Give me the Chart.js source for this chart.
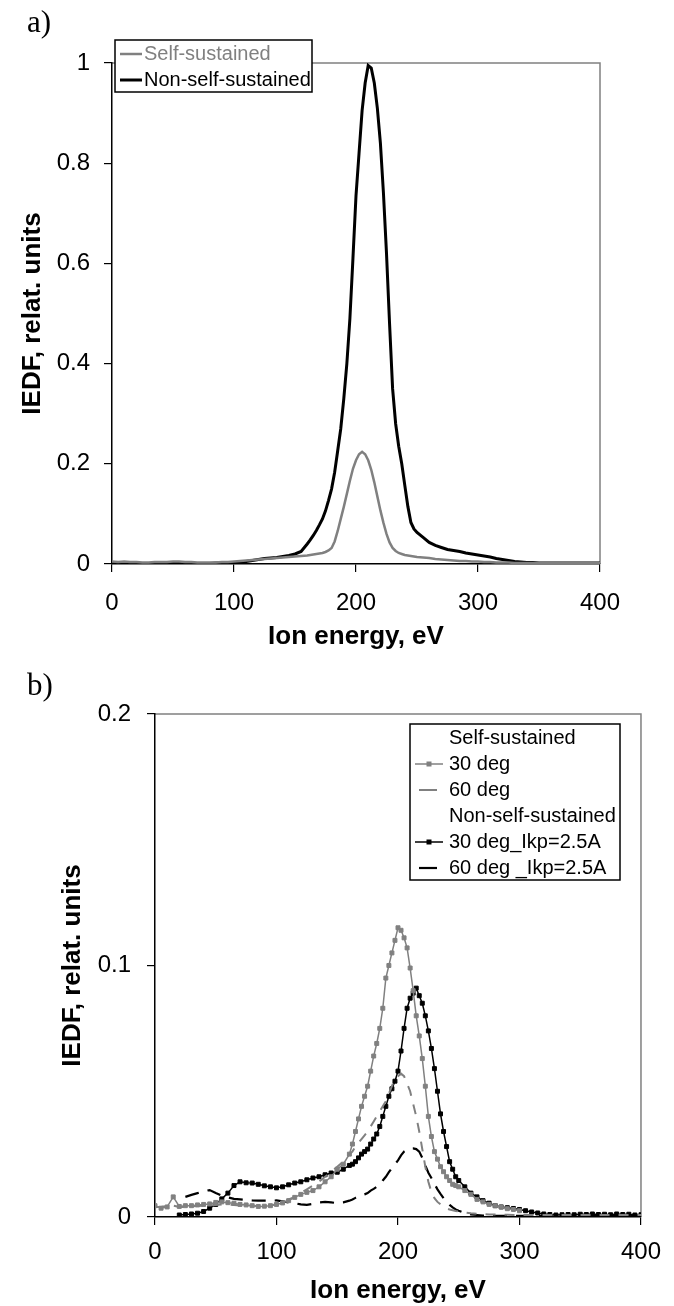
<!DOCTYPE html>
<html>
<head>
<meta charset="utf-8">
<script src="https://cdn.jsdelivr.net/npm/chart.js@4.4.1/dist/chart.umd.min.js"></script>
<style>
body { margin: 0; background: #fff; width: 674px; height: 1306px; position: relative; overflow: hidden; }
canvas { position: absolute; left: 0; }
.lbl { position: absolute; left: 27px; font: 31px/31px "Liberation Serif", serif; color: #000; }
</style>
</head>
<body>
<canvas id="chartA" width="674" height="660" style="top:0"></canvas>
<canvas id="chartB" width="674" height="646" style="top:660px"></canvas>
<div class="lbl" style="top:6px">a)</div>
<div class="lbl" style="top:669px">b)</div>
<script>
// ion energy, eV (finer step around the peaks)
const energy = [
  0, 5, 10, 15, 20, 25, 30, 35, 40, 45, 50, 55, 60, 65, 70, 75, 80, 85, 90, 95,
  100, 105, 110, 115, 120, 125, 130, 135, 140, 145, 150, 155,
  160, 162.5, 165, 167.5, 170, 172.5, 175, 177.5, 180, 182.5,
  185, 187.5, 190, 192.5, 195, 197.5, 200, 202.5, 205, 207.5,
  210, 212.5, 215, 217.5, 220, 222.5, 225, 227.5, 230, 232.5,
  235, 237.5, 240, 242.5, 245, 247.5, 250,
  255, 260, 265, 270, 275, 280, 285, 290, 295, 300,
  305, 310, 315, 320, 325, 330, 335, 340, 345, 350,
  355, 360, 365, 370, 375, 380, 385, 390, 395, 400
];

// a) IEDF
const selfA = [
  0.005, 0.004, 0.005, 0.004, 0.004, 0.003, 0.003, 0.004, 0.004, 0.004,
  0.005, 0.005, 0.004, 0.004, 0.003, 0.003, 0.003, 0.003, 0.004, 0.004,
  0.005, 0.006, 0.007, 0.008, 0.009, 0.010, 0.011, 0.012, 0.013, 0.014,
  0.015, 0.016,
  0.017, 0.018, 0.019, 0.020, 0.021, 0.022, 0.024, 0.027, 0.032, 0.045,
  0.066, 0.090, 0.114, 0.140, 0.166, 0.190, 0.207, 0.219, 0.224, 0.219,
  0.207, 0.188, 0.163, 0.135, 0.107, 0.082, 0.060, 0.043, 0.032, 0.026,
  0.022, 0.020, 0.018, 0.017, 0.016, 0.015, 0.014,
  0.013, 0.012, 0.010, 0.009, 0.008, 0.007, 0.006, 0.006, 0.005, 0.005,
  0.004, 0.004, 0.003, 0.003, 0.003, 0.002, 0.002, 0.002, 0.002, 0.002,
  0.002, 0.002, 0.002, 0.002, 0.002, 0.002, 0.002, 0.002, 0.002, 0.002
];
const nonSelfA = [
  0.002, 0.002, 0.001, 0.001, 0.001, 0.001, 0.001, 0.001, 0.001, 0.001,
  0.001, 0.002, 0.001, 0.001, 0.001, 0.001, 0.001, 0.002, 0.002, 0.002,
  0.002, 0.003, 0.005, 0.007, 0.009, 0.011, 0.012, 0.013, 0.015, 0.017,
  0.020, 0.025,
  0.040, 0.048, 0.057, 0.067, 0.078, 0.090, 0.106, 0.127, 0.150, 0.183,
  0.226, 0.270, 0.330, 0.400, 0.490, 0.610, 0.735, 0.820, 0.905, 0.960,
  0.995, 0.990, 0.960, 0.910, 0.840, 0.740, 0.620, 0.480, 0.350, 0.280,
  0.235, 0.200, 0.157, 0.115, 0.083, 0.070, 0.063,
  0.053, 0.043, 0.037, 0.033, 0.029, 0.027, 0.025, 0.022, 0.020, 0.018,
  0.016, 0.014, 0.011, 0.009, 0.007, 0.005, 0.004, 0.003, 0.003, 0.002,
  0.002, 0.002, 0.002, 0.002, 0.002, 0.002, 0.002, 0.002, 0.002, 0.002
];

// b) IEDF
const self30 = [
  0.0045, 0.0035, 0.004, 0.008, 0.0042, 0.0045, 0.0045, 0.0048, 0.005, 0.0052,
  0.0058, 0.006, 0.0057, 0.0055, 0.005, 0.0048, 0.0045, 0.0042, 0.0043, 0.0045,
  0.005, 0.0056, 0.0065, 0.0078, 0.009, 0.0098, 0.0105, 0.012, 0.014, 0.016,
  0.019, 0.021,
  0.025, 0.029, 0.034, 0.039, 0.044, 0.048, 0.052, 0.058, 0.064, 0.069,
  0.075, 0.083, 0.095, 0.100, 0.105, 0.110, 0.115, 0.114, 0.111, 0.107,
  0.099, 0.090, 0.080, 0.072, 0.063, 0.052, 0.040, 0.032, 0.026, 0.023,
  0.020, 0.018, 0.016, 0.0145, 0.013, 0.0125, 0.012,
  0.0105, 0.009, 0.007, 0.006, 0.005, 0.0045, 0.004, 0.0033, 0.003, 0.0025,
  null, null, null, null, null, null, null, null, null, null,
  null, null, null, null, null, null, null, null, null, null
];
const self60 = [
  0.004, 0.004, 0.0045, 0.0045, 0.004, 0.004, 0.0042, 0.0044, 0.0045, 0.0046,
  0.0048, 0.005, 0.005, 0.0048, 0.0046, 0.0045, 0.0044, 0.0044, 0.0045, 0.0047,
  0.005, 0.006, 0.007, 0.008, 0.0095, 0.011, 0.0125, 0.014, 0.016, 0.018,
  0.020, 0.022,
  0.025, 0.026, 0.028, 0.0295, 0.031, 0.0325, 0.034, 0.036, 0.038, 0.040,
  0.042, 0.044, 0.046, 0.049, 0.052, 0.055, 0.056, 0.057, 0.056, 0.053,
  0.050, 0.045, 0.040, 0.034, 0.027, 0.020, 0.014, 0.010, 0.0075, 0.006,
  0.005, 0.004, 0.0034, 0.003, 0.0027, 0.0024, 0.0022,
  0.0018, 0.0015, 0.0013, 0.0011, 0.001, 0.001, 0.0009, 0.0009, 0.0008, 0.0008,
  0.0008, 0.0008, 0.0008, 0.0008, 0.0008, 0.0008, 0.0008, 0.0008, 0.0008, 0.0008,
  0.0008, 0.0008, 0.0008, 0.0008, 0.0008, 0.0008, 0.0008, 0.0008, 0.0008, 0.0008
];
const nonSelf30 = [
  null, null, null, null, 0.0008, 0.001, 0.0012, 0.0015, 0.0022, 0.0035,
  0.005, 0.0072, 0.0095, 0.0125, 0.014, 0.0136, 0.0135, 0.013, 0.0124, 0.012,
  0.0116, 0.012, 0.0128, 0.0135, 0.014, 0.0148, 0.0155, 0.016, 0.0168, 0.0175,
  0.0178, 0.019,
  0.0205, 0.021, 0.022, 0.0235, 0.025, 0.026, 0.027, 0.029, 0.031, 0.033,
  0.036, 0.040, 0.044, 0.048, 0.051, 0.054, 0.058, 0.066, 0.075, 0.083,
  0.087, 0.089, 0.091, 0.088, 0.085, 0.080, 0.074, 0.067, 0.059, 0.050,
  0.041, 0.034, 0.028, 0.022, 0.019, 0.016, 0.0145,
  0.012, 0.0095, 0.008, 0.0065, 0.0055, 0.0045, 0.004, 0.0037, 0.0034, 0.003,
  0.0025, 0.002, 0.0016, 0.0012, 0.001, 0.0008, 0.0009, 0.001, 0.0009, 0.0011,
  0.001, 0.0012, 0.001, 0.0011, 0.0009, 0.0012, 0.001, 0.0011, 0.0008, 0.0009
];
const nonSelf60 = [
  null, null, null, null, null, 0.008, 0.0088, 0.0095, 0.0102, 0.0107,
  0.0095, 0.0085, 0.0078, 0.0072, 0.007, 0.0068, 0.0066, 0.0065, 0.0065, 0.0065,
  0.0066, 0.0062, 0.0058, 0.0055, 0.005, 0.0048, 0.0052, 0.0058, 0.006, 0.0058,
  0.0055, 0.0058,
  0.0065, 0.007, 0.0076, 0.0082, 0.0086, 0.009, 0.0095, 0.0105, 0.0112, 0.012,
  0.0128, 0.0145, 0.016, 0.0178, 0.0195, 0.021, 0.0225, 0.0245, 0.026, 0.0268,
  0.0273, 0.0273, 0.027, 0.026, 0.0235, 0.0205, 0.0176, 0.0155, 0.0132, 0.011,
  0.0092, 0.0075, 0.006, 0.0048, 0.0038, 0.003, 0.0025,
  0.0016, 0.001, 0.0008, 0.0006, 0.0005, 0.0005, 0.0005, 0.0005, 0.0005, 0.0005,
  0.0005, 0.0005, 0.0005, 0.0005, 0.0005, 0.0005, 0.0005, 0.0005, 0.0005, 0.0005,
  0.0005, 0.0005, 0.0005, 0.0005, 0.0005, 0.0005, 0.0005, 0.0005, 0.0005, 0.0005
];

const xTicks = [0, 100, 200, 300, 400];

const GRAY = '#808080';
const FONT = '"Liberation Sans", Arial, sans-serif';
Chart.defaults.font.family = FONT;
Chart.defaults.color = '#000';

const pts = ys => energy.map((x, i) => ({ x: x, y: ys[i] }));

// gray top/right frame of the plot area
const frame = {
  id: 'frame',
  beforeDraw(chart) {
    const { ctx, chartArea: a } = chart;
    ctx.save();
    ctx.strokeStyle = GRAY;
    ctx.lineWidth = 1.5;
    ctx.beginPath();
    ctx.moveTo(a.left, a.top);
    ctx.lineTo(a.right, a.top);
    ctx.lineTo(a.right, a.bottom);
    ctx.stroke();
    ctx.restore();
  }
};

// boxed legend inside the plot, with header rows
const boxLegend = {
  id: 'boxLegend',
  afterDraw(chart, args, o) {
    const { ctx, chartArea: a } = chart;
    const x0 = a.left + o.dx, y0 = a.top + o.dy;
    ctx.save();
    ctx.fillStyle = '#fff';
    ctx.fillRect(x0, y0, o.w, o.h);
    ctx.strokeStyle = '#000';
    ctx.lineWidth = 1.5;
    ctx.strokeRect(x0, y0, o.w, o.h);
    ctx.font = o.font;
    ctx.textBaseline = 'middle';
    o.items.forEach((it, i) => {
      const y = y0 + o.first + i * o.gap;
      if (it.ds != null) {
        const ds = chart.data.datasets[it.ds];
        const sx = x0 + o.sampleX;
        ctx.strokeStyle = ds.borderColor;
        ctx.lineWidth = ds.borderWidth;
        ctx.beginPath();
        if (ds.borderDash) {
          ctx.moveTo(sx + 4, y);
          ctx.lineTo(sx + o.sampleW - 6, y);
        } else {
          ctx.moveTo(sx, y);
          ctx.lineTo(sx + o.sampleW, y);
        }
        ctx.stroke();
        if (ds.pointRadius > 0) {
          ctx.fillStyle = ds.pointBackgroundColor;
          ctx.fillRect(sx + o.sampleW / 2 - 2.5, y - 2.5, 5, 5);
        }
      }
      ctx.fillStyle = it.color || '#000';
      ctx.fillText(it.text, x0 + o.textX, y);
    });
    ctx.restore();
  }
};

function axes(o) {
  return {
    x: {
      type: 'linear', min: 0, max: 400,
      afterBuildTicks: s => { s.ticks = xTicks.map(v => ({ value: v })); },
      afterFit: s => { s.height = o.xHeight; },
      ticks: { font: { size: 24 }, color: '#000', padding: o.xPad, maxRotation: 0 },
      grid: { drawOnChartArea: false, drawTicks: true, tickLength: 8, color: '#000', lineWidth: 1.2 },
      border: { display: true, color: '#000', width: 1.5 },
      title: { display: true, text: 'Ion energy, eV', color: '#000',
               font: { size: 26, weight: 'bold' }, padding: { top: 0, bottom: o.xTitlePad } }
    },
    y: {
      type: 'linear', min: 0, max: o.yMax,
      ticks: { stepSize: o.yStep, font: { size: 24 }, color: '#000', padding: o.yPad,
               callback: v => String(+v.toFixed(2)) },
      afterFit: s => { s.width = o.yWidth; },
      grid: { drawOnChartArea: false, drawTicks: true, tickLength: 8, color: '#000', lineWidth: 1.2 },
      border: { display: true, color: '#000', width: 1.5 },
      title: { display: true, text: 'IEDF, relat. units', color: '#000',
               font: { size: 26, weight: 'bold' }, padding: { top: o.yTitlePad, bottom: 0 } }
    }
  };
}

const common = {
  responsive: false,
  animation: false,
  events: [],
  devicePixelRatio: 1
};

new Chart(document.getElementById('chartA'), {
  type: 'line',
  data: {
    datasets: [
      { label: 'Self-sustained', data: pts(selfA), borderColor: GRAY, borderWidth: 2.5,
        pointRadius: 0, tension: 0 },
      { label: 'Non-self-sustained', data: pts(nonSelfA), borderColor: '#000', borderWidth: 3,
        pointRadius: 0, tension: 0 }
    ]
  },
  options: Object.assign({}, common, {
    layout: { padding: { top: 63, right: 74, bottom: 0, left: 0 } },
    scales: axes({ xHeight: 96, xPad: 17, xTitlePad: 8, yMax: 1, yStep: 0.2,
                   yPad: 14, yWidth: 112, yTitlePad: 17 }),
    plugins: {
      legend: { display: false },
      tooltip: { enabled: false },
      boxLegend: {
        dx: 3, dy: -23, w: 197, h: 52, first: 14, gap: 26,
        sampleX: 5, sampleW: 22, textX: 29, font: '20px ' + FONT,
        items: [
          { text: 'Self-sustained', ds: 0, color: GRAY },
          { text: 'Non-self-sustained', ds: 1 }
        ]
      }
    }
  }),
  plugins: [frame, boxLegend]
});

new Chart(document.getElementById('chartB'), {
  type: 'line',
  data: {
    datasets: [
      { label: '30 deg', data: pts(self30), borderColor: GRAY, borderWidth: 1.5,
        pointStyle: 'rect', pointRadius: 2.8, pointBackgroundColor: GRAY,
        pointBorderColor: GRAY, pointBorderWidth: 1, tension: 0 },
      { label: '60 deg', data: pts(self60), borderColor: GRAY, borderWidth: 2,
        borderDash: [10, 9], pointRadius: 0, tension: 0 },
      { label: '30 deg_Ikp=2.5A', data: pts(nonSelf30), borderColor: '#000', borderWidth: 1.5,
        pointStyle: 'rect', pointRadius: 2.8, pointBackgroundColor: '#000',
        pointBorderColor: '#000', pointBorderWidth: 1, tension: 0 },
      { label: '60 deg _Ikp=2.5A', data: pts(nonSelf60), borderColor: '#000', borderWidth: 2.2,
        borderDash: [14, 9], pointRadius: 0, tension: 0 }
    ]
  },
  options: Object.assign({}, common, {
    layout: { padding: { top: 54, right: 25, bottom: 0, left: 0 } },
    scales: axes({ xHeight: 89, xPad: 13, xTitlePad: 0, yMax: 0.2, yStep: 0.1,
                   yPad: 16, yWidth: 155, yTitlePad: 57 }),
    plugins: {
      legend: { display: false },
      tooltip: { enabled: false },
      boxLegend: {
        dx: 255, dy: 10, w: 210, h: 156, first: 14, gap: 26,
        sampleX: 5, sampleW: 28, textX: 39, font: '20px ' + FONT,
        items: [
          { text: 'Self-sustained' },
          { text: '30 deg', ds: 0 },
          { text: '60 deg', ds: 1 },
          { text: 'Non-self-sustained' },
          { text: '30 deg_Ikp=2.5A', ds: 2 },
          { text: '60 deg _Ikp=2.5A', ds: 3 }
        ]
      }
    }
  }),
  plugins: [frame, boxLegend]
});
</script>
</body>
</html>
